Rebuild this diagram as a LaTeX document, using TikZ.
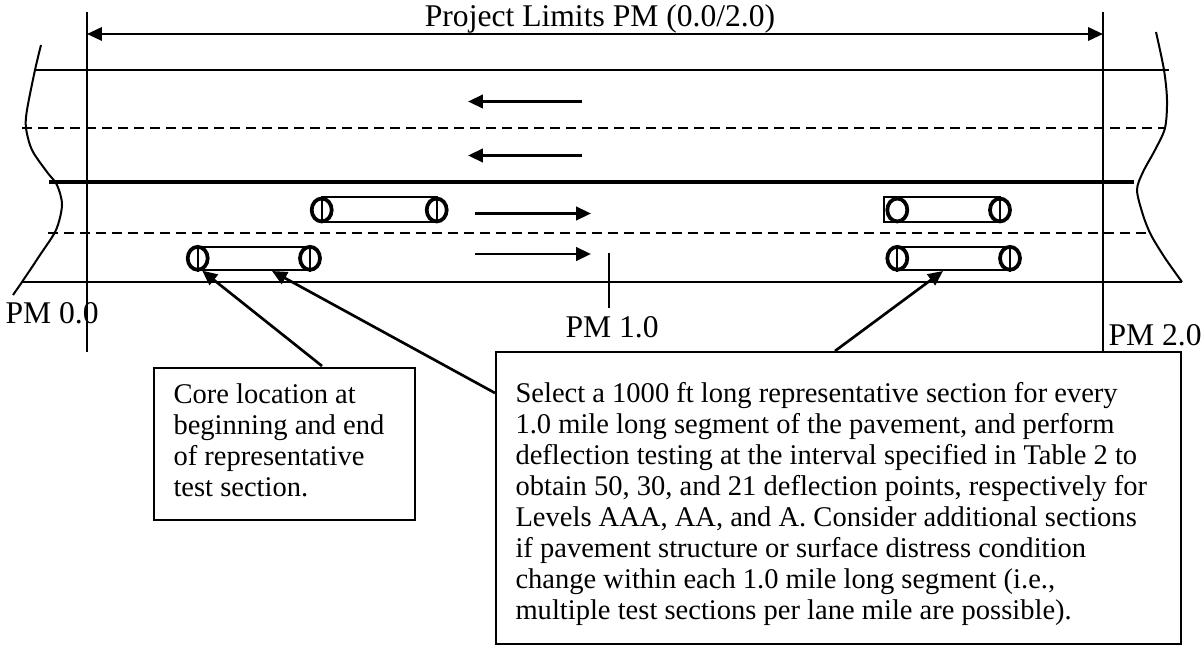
\documentclass[tikz,border=0pt]{standalone}
\usepackage{fontspec}
\setmainfont{Liberation Serif}
\usetikzlibrary{arrows.meta,shapes.geometric}

\tikzset{
  road/.style={line width=0.75pt},
  lanemark/.style={line width=0.75pt, dash pattern=on 3.75pt off 2.25pt},
  median/.style={line width=1.5pt},
  flow/.style={line width=1.1pt, -{Triangle[length=5.6pt,width=5pt]}},
  pointer/.style={line width=1pt, -{Triangle[length=5.6pt,width=5pt]}},
  core/.style={ellipse, draw, fill=white, line width=1.4pt, minimum width=7.5pt, minimum height=8.6pt, inner sep=0pt},
  strip/.style={line width=0.7pt},
  pmlabel/.style={anchor=base west, inner sep=0pt, font=\fontsize{11.85}{13}\selectfont},
  notebox/.style={draw, line width=0.75pt, anchor=north west, inner sep=0pt},
  notetext/.style={anchor=north west, inner sep=0pt, align=left, font=\fontsize{10.7}{11.625}\selectfont}
}

\begin{document}
\begin{tikzpicture}[x=0.375pt,y=-0.375pt]
\useasboundingbox (0,0) rectangle (1203,645);

% road edges and lane lines
\draw[road] (35,70) -- (1169,70);
\draw[lanemark] (22,128) -- (1165,128);
\draw[median] (49,182.5) -- (1134,182.5);
\draw[lanemark] (48,232.5) -- (1150,232.5);
\draw[road] (22,282) -- (1182,282);

% break lines
\draw[road] plot[smooth] coordinates {(41,45) (35,70) (27,110) (26,128) (32,150) (47,172) (57,185) (62,205) (56,230) (40,255) (22,282) (13,295)};
\draw[road] plot[smooth] coordinates {(1156,32) (1164,70) (1167,100) (1165,128) (1155,150) (1143,172) (1137,190) (1143,215) (1151,235) (1165,258) (1182,282)};

% project limits
\coordinate (limL) at (87,34);
\coordinate (limR) at (1103,34);
\draw[road] (87,12) -- (87,352);
\draw[road] (1103,12) -- (1103,351);
\draw[line width=0.9pt, {Triangle[length=5.6pt,width=5pt]}-{Triangle[length=5.6pt,width=5pt]}] (limL) -- (limR);
\node[pmlabel, anchor=base] (limits) at (600,27) {Project Limits PM (0.0/2.0)};

\node[pmlabel] (pm0) at (5,323) {PM 0.0};
\node[pmlabel] (pm1) at (565,337) {PM 1.0};
\node[pmlabel] (pm2) at (1108,345) {PM 2.0};
\draw[road] (609,253) -- (609,308);

% traffic directions
\draw[flow] (582,101.5) -- (468,101.5);
\draw[flow] (582,155.5) -- (468,155.5);
\draw[flow] (475,213.5) -- (591,213.5);
\draw[flow] (475,254) -- (591,254);

% test sections with cores
\draw[strip] (321.7,197.3) rectangle (436.7,222.3);
\node[core] (ulA) at (321.7,210) {};
\node[core] (ulB) at (436.7,210) {};
\draw[strip] (ulA.north) -- (ulA.south);
\draw[strip] (ulB.north) -- (ulB.south);

\draw[strip] (197.7,246.7) rectangle (310,270);
\node[core] (llA) at (197.7,258.3) {};
\node[core] (llB) at (310,258.3) {};
\draw[strip] (llA.north) -- (llA.south);
\draw[strip] (llB.north) -- (llB.south);

\draw[strip] (884,197.3) rectangle (1000,222.3);
\node[core] (urA) at (897.3,210) {};
\node[core] (urB) at (1000,210) {};
\draw[strip] (urB.north) -- (urB.south);

\draw[strip] (897.3,246.7) rectangle (1010,270);
\node[core] (lrA) at (897.3,258.3) {};
\node[core] (lrB) at (1010,258.3) {};
\draw[strip] (lrA.north) -- (lrA.south);
\draw[strip] (lrB.north) -- (lrB.south);

\coordinate (llmid) at (272,271);
\coordinate (lrmid) at (943,271);

% notes
\node[notebox, minimum width=98pt, minimum height=57pt] (corebox) at (153,367) {};
\node[notetext] (coretext) at (173,383.5) {Core location at\\beginning and end\\of representative\\test section.};
\node[notebox, minimum width=257pt, minimum height=109.5pt] (selbox) at (495,351) {};
\node[notetext] (seltext) at (515,381.5) {Select a 1000 ft long representative section for every\\1.0 mile long segment of the pavement, and perform\\deflection testing at the interval specified in Table 2 to\\obtain 50, 30, and 21 deflection points, respectively for\\Levels AAA, AA, and A. Consider additional sections\\if pavement structure or surface distress condition\\change within each 1.0 mile long segment (i.e.,\\multiple test sections per lane mile are possible).};

\coordinate (coretop) at (322,366);
\coordinate (selcorner) at (495,393);
\coordinate (seltop) at (835,351);
\draw[pointer] (coretop) -- (llA.-70);
\draw[pointer] (selcorner) -- (llmid);
\draw[pointer] (seltop) -- (lrmid);
\end{tikzpicture}
\end{document}
